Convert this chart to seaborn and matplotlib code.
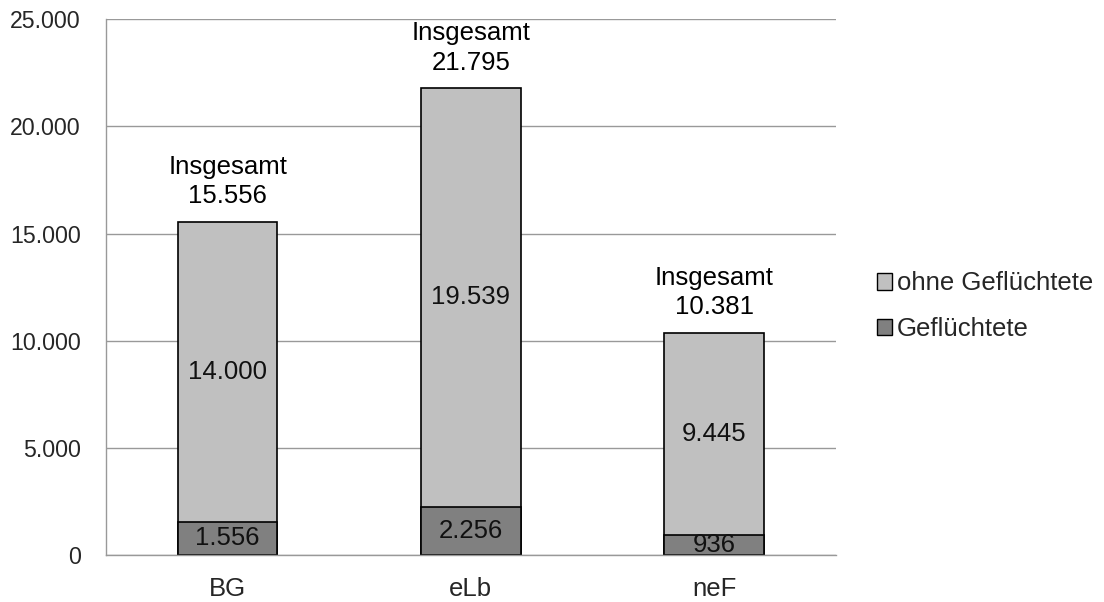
import matplotlib
matplotlib.use("Agg")
import matplotlib.pyplot as plt
import seaborn as sns
import pandas as pd
from matplotlib.patches import Patch

categories = ["BG", "eLb", "neF"]
gefluechtete = [1556, 2256, 936]
ohne_gefluechtete = [14000, 19539, 9445]
insgesamt = [15556, 21795, 10381]
y_ticks = [0, 5000, 10000, 15000, 20000, 25000]

def fmt(v):
    return f"{v:,}".replace(",", ".")

sns.set_theme(style="white")
plt.rcParams['font.family'] = ['Liberation Sans', 'DejaVu Sans']

df = pd.DataFrame({"cat": categories, "geflu": gefluechtete,
                   "ohne": ohne_gefluechtete, "total": insgesamt})

fig = plt.figure(figsize=(11.04, 6.02), dpi=100)
ax = fig.add_axes([0.096, 0.078, 0.661, 0.890])

light = "#C0C0C0"
dark = "#808080"
sns.barplot(data=df, x="cat", y="total", color=light, width=0.41,
            edgecolor="black", linewidth=1.2, saturation=1, ax=ax)
sns.barplot(data=df, x="cat", y="geflu", color=dark, width=0.41,
            edgecolor="black", linewidth=1.2, saturation=1, ax=ax)

for i, (g, o, t) in enumerate(zip(gefluechtete, ohne_gefluechtete, insgesamt)):
    ax.text(i, g / 2, fmt(g), ha="center", va="center", fontsize=18.5, color="#111111")
    ax.text(i, g + o / 2, fmt(o), ha="center", va="center", fontsize=18.5, color="#111111")
    ax.annotate("Insgesamt\n" + fmt(t), xy=(i, t), xytext=(0, 9.5),
                textcoords="offset points", ha="center", va="bottom",
                fontsize=18.5, color="black", linespacing=1.28)

ax.set_ylim(0, 25000)
ax.set_xlim(-0.5, 2.5)
ax.set_yticks(y_ticks)
ax.set_yticklabels([fmt(v) for v in y_ticks], fontsize=16.7)
ax.yaxis.grid(True, color="#999999", linewidth=1)
ax.set_axisbelow(True)
ax.set_xlabel("")
ax.set_ylabel("")

ax.set_xticks([0, 1, 2])
ax.set_xticklabels(categories, fontsize=18.5)
ax.tick_params(axis="x", length=0, pad=16)
ax.set_xticks([-0.5, 0.5, 1.5, 2.5], minor=True)
ax.tick_params(axis="x", which="minor", length=7, color="#999999", width=1, direction="out")
ax.tick_params(axis="y", length=7, color="#999999", width=1, direction="out", pad=11)

for s in ["top", "right"]:
    ax.spines[s].set_visible(False)
for s in ["left", "bottom"]:
    ax.spines[s].set_color("#999999")
    ax.spines[s].set_linewidth(1)

handles = [Patch(facecolor=light, edgecolor="black", label="ohne Geflüchtete"),
           Patch(facecolor=dark, edgecolor="black", label="Geflüchtete")]
fig.legend(handles=handles, loc="center left", bbox_to_anchor=(0.794, 0.491),
           frameon=False, fontsize=18.5, handlelength=0.6, handleheight=0.6,
           handletextpad=0.2, labelspacing=0.85, borderpad=0, borderaxespad=0)

fig.savefig("out.png", dpi=100)
